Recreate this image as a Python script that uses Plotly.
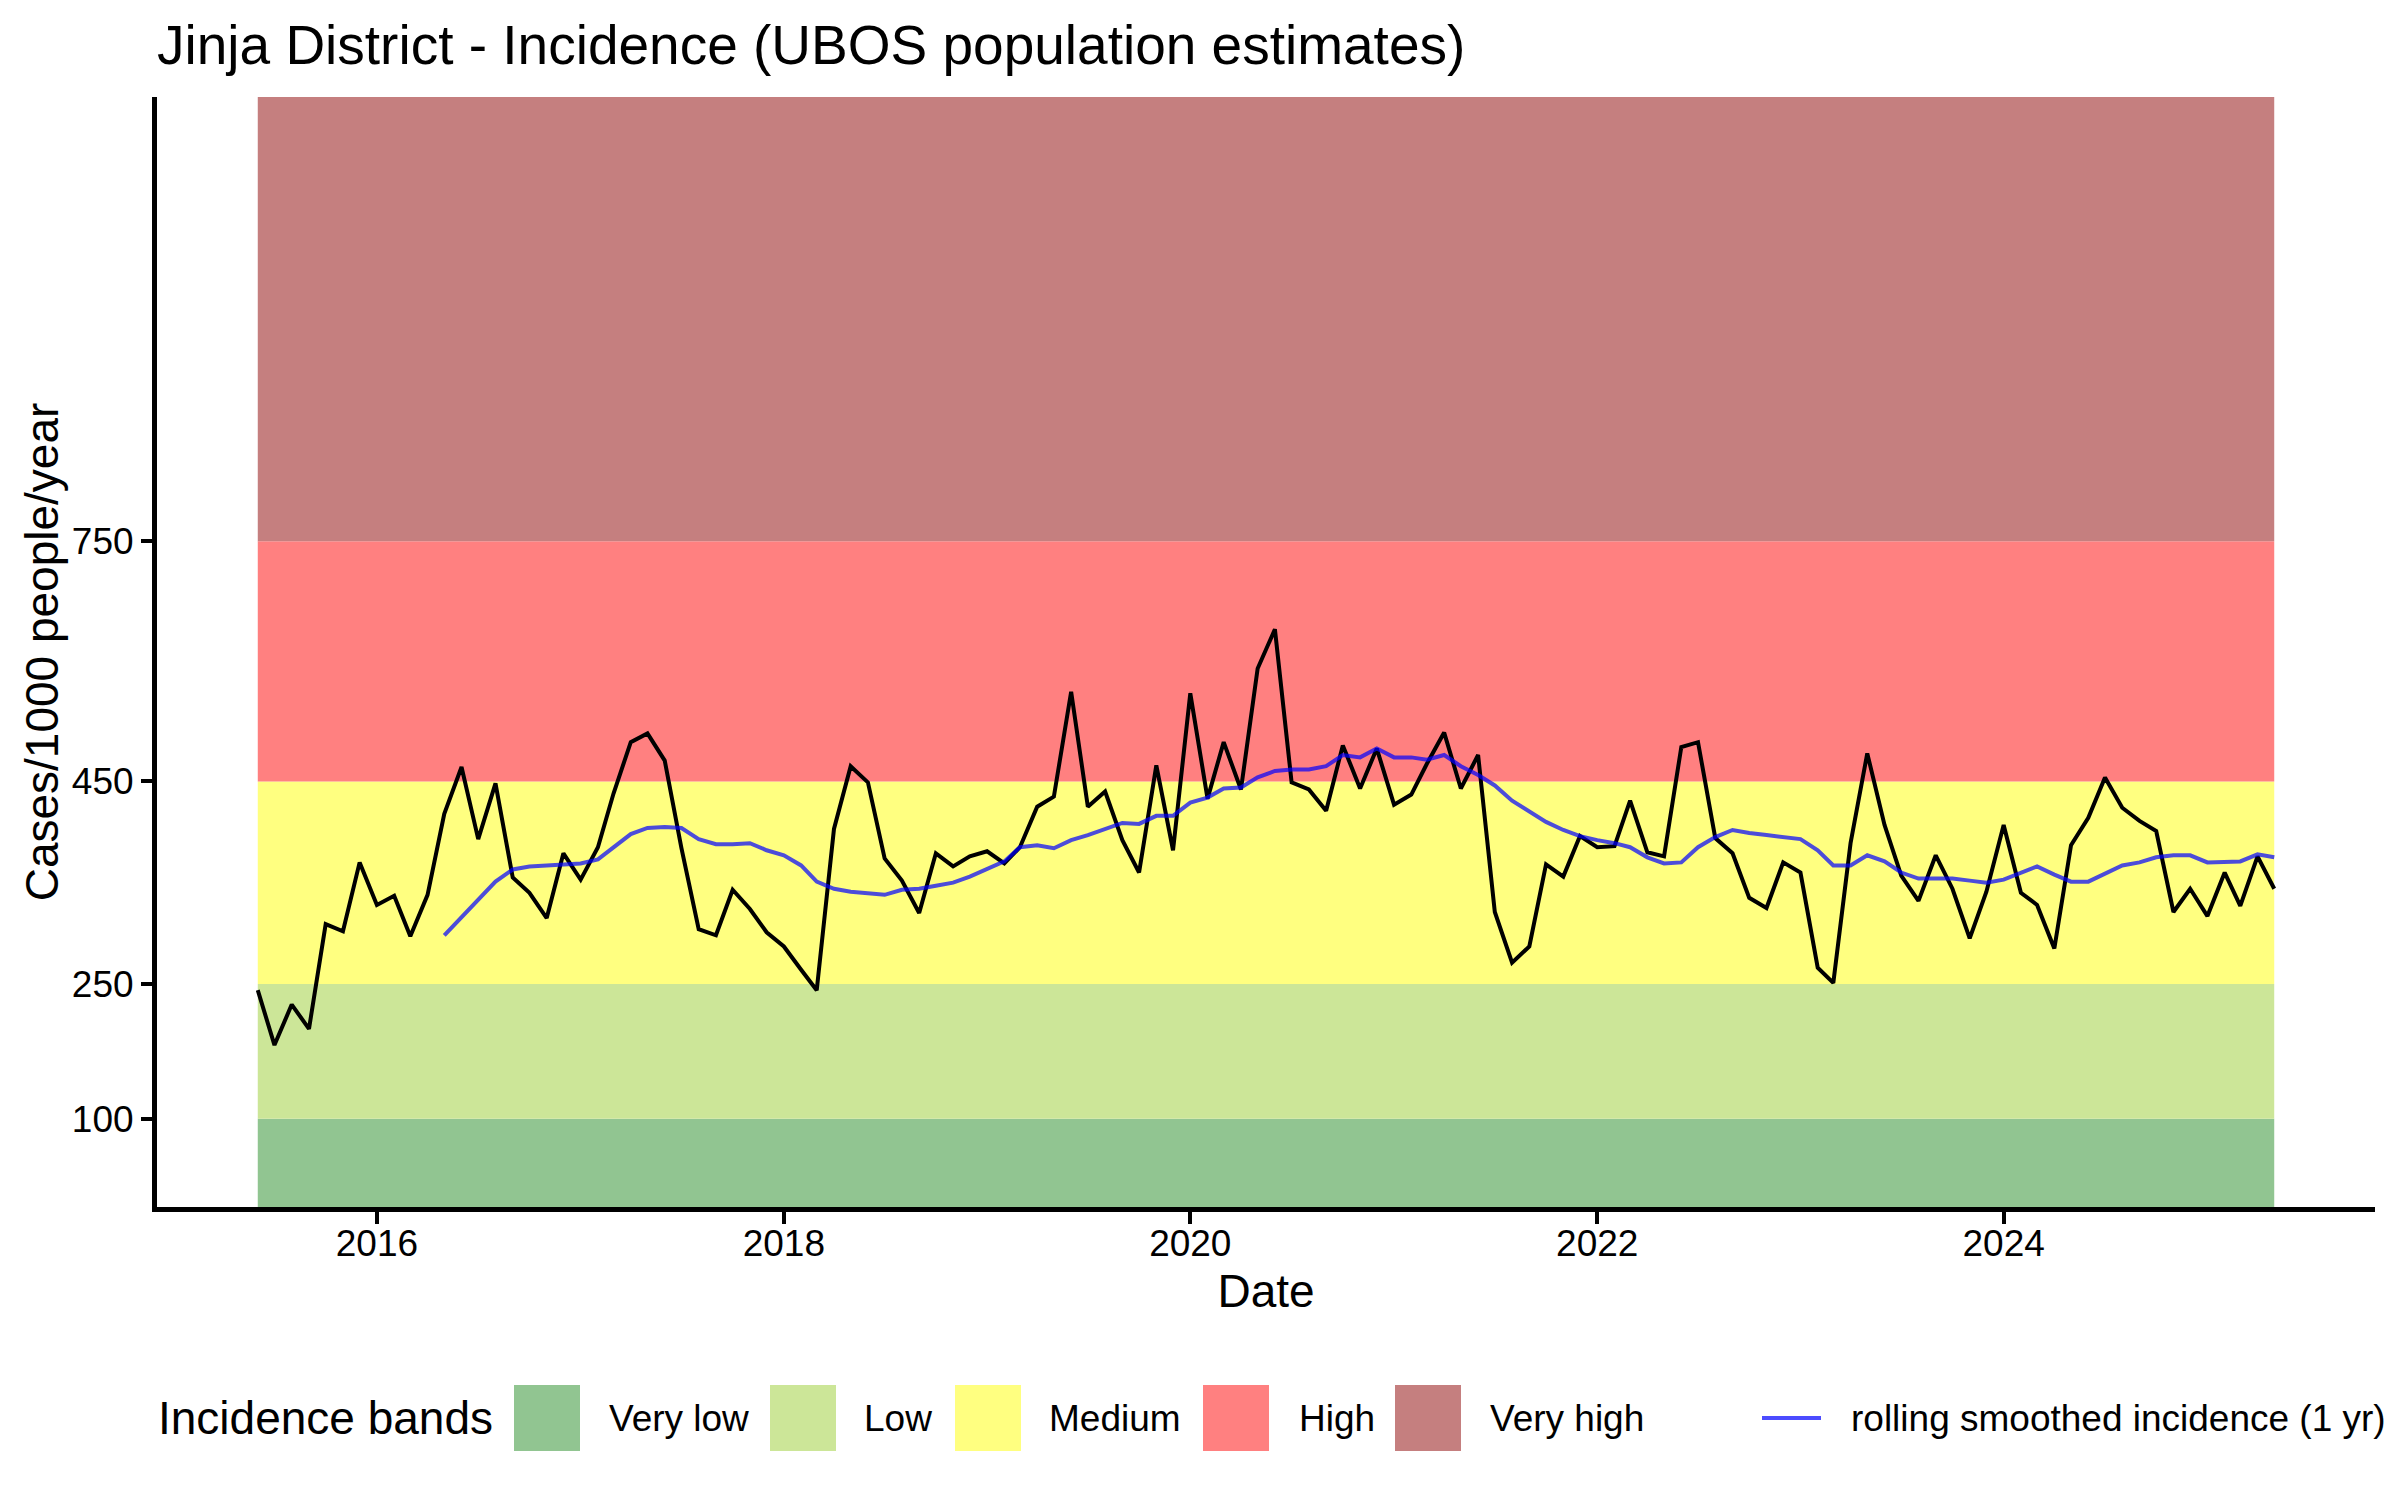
import numpy as np
import pandas as pd
import plotly.graph_objects as go

# ---------------- data ----------------
TITLE = "Jinja District - Incidence (UBOS population estimates)"
X_TITLE = "Date"
Y_TITLE = "Cases/1000 people/year"
LEGEND_TITLE = "Incidence bands"
ROLL_NAME = "rolling smoothed incidence (1 yr)"

DATES = pd.date_range("2015-06-01", periods=120, freq="MS")

INCIDENCE = [
    243, 182, 227, 200, 309, 302, 370, 328, 337, 297,
    338, 418, 468, 393, 448, 355, 340, 315, 379, 353,
    385, 438, 499, 510, 476, 384, 304, 298, 343, 324,
    301, 287, 264, 243, 403, 469, 449, 374, 352, 320,
    379, 366, 376, 381, 369, 385, 425, 435, 562, 425,
    440, 392, 360, 470, 382, 560, 433, 499, 442, 591,
    640, 449, 442, 421, 495, 443, 491, 427, 437, 472,
    511, 443, 483, 321, 271, 287, 368, 356, 396, 385,
    386, 431, 380, 376, 493, 499, 394, 379, 335, 325,
    370, 360, 266, 251, 389, 485, 407, 357, 332, 377,
    344, 295, 341, 407, 340, 328, 285, 387, 414, 455,
    424, 411, 401, 321, 344, 317, 360, 327, 376, 344,
]

ROLL_DATES = pd.date_range("2016-05-01", periods=109, freq="MS")
ROLLING = [
    298, 316, 333, 351, 363, 366, 367, 368, 369, 373,
    385, 398, 404, 405, 404, 393, 388, 388, 389, 382,
    377, 367, 351, 344, 341, 339, 338, 343, 344, 347,
    350, 356, 363, 371, 385, 387, 384, 392, 397, 403,
    409, 408, 416, 416, 429, 434, 443, 444, 455, 463,
    465, 465, 469, 483, 480, 491, 480, 480, 477, 483,
    469, 458, 446, 431, 420, 410, 402, 396, 392, 389,
    385, 375, 369, 370, 385, 395, 402, 399, 397, 395,
    393, 382, 367, 367, 377, 371, 360, 354, 354, 354,
    352, 350, 353, 360, 366, 358, 351, 351, 359, 367,
    370, 375, 377, 377, 370, 371, 371, 378, 375,
]

BAND_NAMES = ["Very low", "Low", "Medium", "High", "Very high"]
BAND_LOWER = [0, 100, 250, 450, 750]
BAND_UPPER = [100, 250, 450, 750, 1305]
BAND_COLORS = ["#91C591", "#CCE698", "#FFFF80", "#FF8080", "#C57F7F"]

Y_BREAKS = [100, 250, 450, 750]
X_BREAKS = ["2016-01-01", "2018-01-01", "2020-01-01", "2022-01-01", "2024-01-01"]
X_LABELS = ["2016", "2018", "2020", "2022", "2024"]

# custom (piecewise linear) y scale transform, as used by the reference
SCALE_VALUES = [0, 100, 250, 450, 750, 1305]
SCALE_POS = [0, 88.2, 223.1, 425.6, 665.8, 1110]


def ty(v):
    return np.interp(np.asarray(v, dtype=float), SCALE_VALUES, SCALE_POS)


# ---------------- layout helpers ----------------
W, H = 2400, 1500
ML, MR, MT, MB = 157, 25, 97, 293
PW = W - ML - MR
PH = H - MT - MB
FONT = "Liberation Sans, Arial, Helvetica, sans-serif"


def pxx(px):
    return (px - ML) / PW


def pxy(py):
    return (H - MB - py) / PH


fig = go.Figure()

# incidence bands
shapes = []
for lo, hi, col in zip(BAND_LOWER, BAND_UPPER, BAND_COLORS):
    shapes.append(dict(type="rect", xref="x", yref="y",
                       x0=DATES[0], x1=DATES[-1], y0=float(ty(lo)), y1=float(ty(hi)),
                       fillcolor=col, line=dict(width=0), layer="below"))

fig.add_trace(go.Scatter(
    x=DATES, y=ty(INCIDENCE), customdata=INCIDENCE, mode="lines",
    line=dict(color="black", width=4), showlegend=False,
    hovertemplate="%{x|%b %Y}<br>%{customdata}<extra></extra>"))

fig.add_trace(go.Scatter(
    x=ROLL_DATES, y=ty(ROLLING), customdata=ROLLING, mode="lines",
    line=dict(color="rgba(0,0,255,0.7)", width=4), name=ROLL_NAME, showlegend=False,
    hovertemplate="%{x|%b %Y}<br>%{customdata}<extra>" + ROLL_NAME + "</extra>"))

# manual legend (ggplot-style large keys)
LEG_Y = 1418
KEY_SIZE = 66
KEY_X = [514, 770, 955, 1203, 1395]
LABEL_X = [607, 862, 1047, 1297, 1488]
annotations = [dict(text=LEGEND_TITLE, xref="paper", yref="paper", x=pxx(156), y=pxy(LEG_Y),
                    xanchor="left", yanchor="middle", showarrow=False,
                    font=dict(size=46, color="black", family=FONT))]
for name, col, kx, lx in zip(BAND_NAMES, BAND_COLORS, KEY_X, LABEL_X):
    shapes.append(dict(type="rect", xref="paper", yref="paper",
                       x0=pxx(kx), x1=pxx(kx + KEY_SIZE),
                       y0=pxy(LEG_Y + KEY_SIZE / 2), y1=pxy(LEG_Y - KEY_SIZE / 2),
                       fillcolor=col, line=dict(width=0)))
    annotations.append(dict(text=name, xref="paper", yref="paper", x=pxx(lx), y=pxy(LEG_Y),
                            xanchor="left", yanchor="middle", showarrow=False,
                            font=dict(size=37, color="black", family=FONT)))
shapes.append(dict(type="line", xref="paper", yref="paper",
                   x0=pxx(1762), x1=pxx(1821), y0=pxy(LEG_Y), y1=pxy(LEG_Y),
                   line=dict(color="rgba(0,0,255,0.7)", width=4)))
annotations.append(dict(text=ROLL_NAME, xref="paper", yref="paper", x=pxx(1849), y=pxy(LEG_Y),
                        xanchor="left", yanchor="middle", showarrow=False,
                        font=dict(size=37, color="black", family=FONT)))

fig.update_layout(
    width=W, height=H,
    margin=dict(l=ML, r=MR, t=MT, b=MB, autoexpand=False),
    paper_bgcolor="white", plot_bgcolor="white",
    font=dict(family=FONT, color="black"),
    title=dict(text=TITLE, x=0, xref="paper", xanchor="left",
               y=1 - 45 / H, yref="container", yanchor="middle",
               font=dict(size=55, color="black", family=FONT)),
    showlegend=False,
    shapes=shapes,
    annotations=annotations,
    xaxis=dict(type="date", range=["2014-12-02", "2025-10-29"],
               tickvals=X_BREAKS, ticktext=X_LABELS,
               showline=True, linecolor="black", linewidth=5,
               ticks="outside", ticklen=12, tickwidth=4, tickcolor="black",
               ticklabelstandoff=-12,
               tickfont=dict(size=37, color="black", family=FONT),
               showgrid=False, zeroline=False, automargin=False,
               title=dict(text=X_TITLE, font=dict(size=46, color="black", family=FONT), standoff=13)),
    yaxis=dict(range=[0, SCALE_POS[-1]],
               tickvals=ty(Y_BREAKS), ticktext=[str(v) for v in Y_BREAKS],
               showline=True, linecolor="black", linewidth=5,
               ticks="outside", ticklen=11, tickwidth=4, tickcolor="black",
               tickfont=dict(size=37, color="black", family=FONT),
               showgrid=False, zeroline=False, automargin=False,
               title=dict(text=Y_TITLE, font=dict(size=46, color="black", family=FONT), standoff=0)),
)

fig.write_html("out.html", config={"displayModeBar": False},
               post_script="document.body.style.margin='0';")
